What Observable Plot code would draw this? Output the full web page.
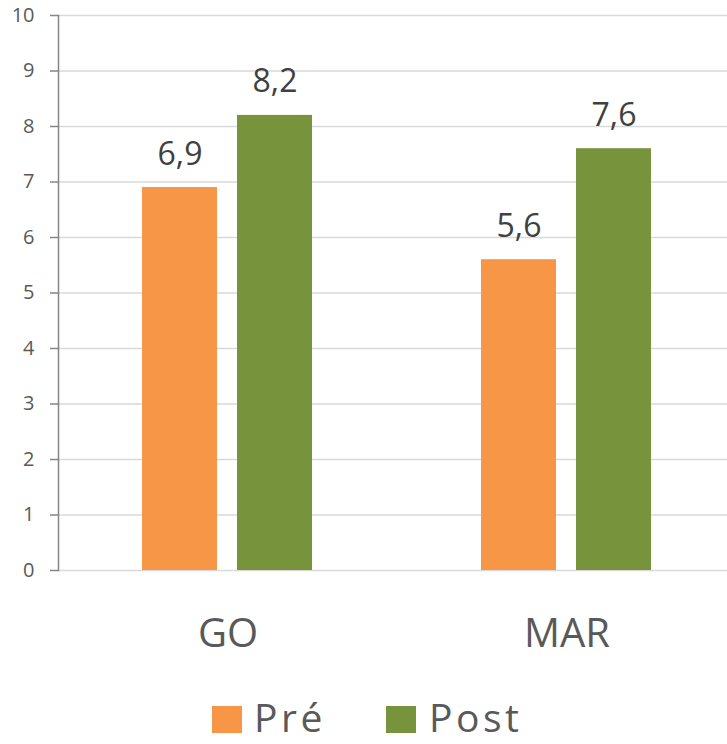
<!DOCTYPE html>
<html>
<head>
<meta charset="utf-8">
<script src="https://cdn.jsdelivr.net/npm/d3@7"></script>
<script src="https://cdn.jsdelivr.net/npm/@observablehq/plot@0.6"></script>
<style>
  html, body { margin: 0; padding: 0; background: #fff; overflow: hidden; }
  #wrap { position: relative; width: 727px; height: 744px; overflow: hidden; font-family: "Open Sans", sans-serif; }
  #wrap svg { max-width: none !important; }
  .legend { position: absolute; top: 0; left: 0; width: 727px; height: 744px; pointer-events: none; }
  .sw { position: absolute; width: 30px; height: 27px; top: 706px; }
  .lt { position: absolute; top: 697px; font-size: 39px; letter-spacing: 3.5px; color: #595959; line-height: 39px; white-space: nowrap; }
</style>
</head>
<body>
<div id="wrap"></div>
<script>
const categories = ["GO", "MAR"];
const series = ["Pré", "Post"];
const preValues = [6.9, 5.6];
const postValues = [8.2, 7.6];
const yTicks = [0, 1, 2, 3, 4, 5, 6, 7, 8, 9, 10];
const colors = ["#F79646", "#77933C"];

const rows = [];
categories.forEach((c, i) => {
  rows.push({category: c, series: series[0], value: preValues[i]});
  rows.push({category: c, series: series[1], value: postValues[i]});
});

const chart = Plot.plot({
  width: 736,
  height: 680,
  marginLeft: 58,
  marginRight: 0,
  marginTop: 15,
  marginBottom: 110,
  style: {fontFamily: "Open Sans", background: "white", overflow: "visible", maxWidth: "none"},
  fx: {domain: categories, padding: 0, label: null},
  x: {domain: series, paddingInner: 0.2083, paddingOuter: 0.8698, axis: null},
  y: {domain: [0, 10], label: null},
  color: {domain: series, range: colors},
  marks: [
    Plot.gridY(yTicks, {stroke: "#d9d9d9", strokeOpacity: 1, strokeWidth: 1.5}),
    Plot.barY(rows, {fx: "category", x: "series", y: "value", fill: "series"}),
    Plot.text(rows, {
      fx: "category", x: "series", y: "value",
      text: d => d.value.toFixed(1).replace(".", ","),
      lineAnchor: "bottom", dy: -23, fontSize: 32, fill: "#404040"
    }),
    Plot.axisY(yTicks, {tickSize: 8, tickPadding: 16, fontSize: 20, stroke: "#868686", fill: "#595959", strokeWidth: 1.5, tickFormat: d => String(d), label: null}),
    Plot.axisFx({anchor: "bottom", tickSize: 0, tickPadding: 48, fontSize: 40, fill: "#595959", label: null}),
    Plot.frame({anchor: "left", facet: "super", stroke: "#868686", strokeWidth: 1.5})
  ]
});

const wrap = document.getElementById("wrap");
wrap.appendChild(chart);

const legend = document.createElement("div");
legend.className = "legend";
const swLeft = [212, 386];
const txLeft = [254, 429];
series.forEach((s, i) => {
  const sw = document.createElement("div");
  sw.className = "sw";
  sw.style.left = swLeft[i] + "px";
  sw.style.background = colors[i];
  legend.appendChild(sw);
  const t = document.createElement("div");
  t.className = "lt";
  t.style.left = txLeft[i] + "px";
  t.textContent = s;
  legend.appendChild(t);
});
wrap.appendChild(legend);
</script>
</body>
</html>
